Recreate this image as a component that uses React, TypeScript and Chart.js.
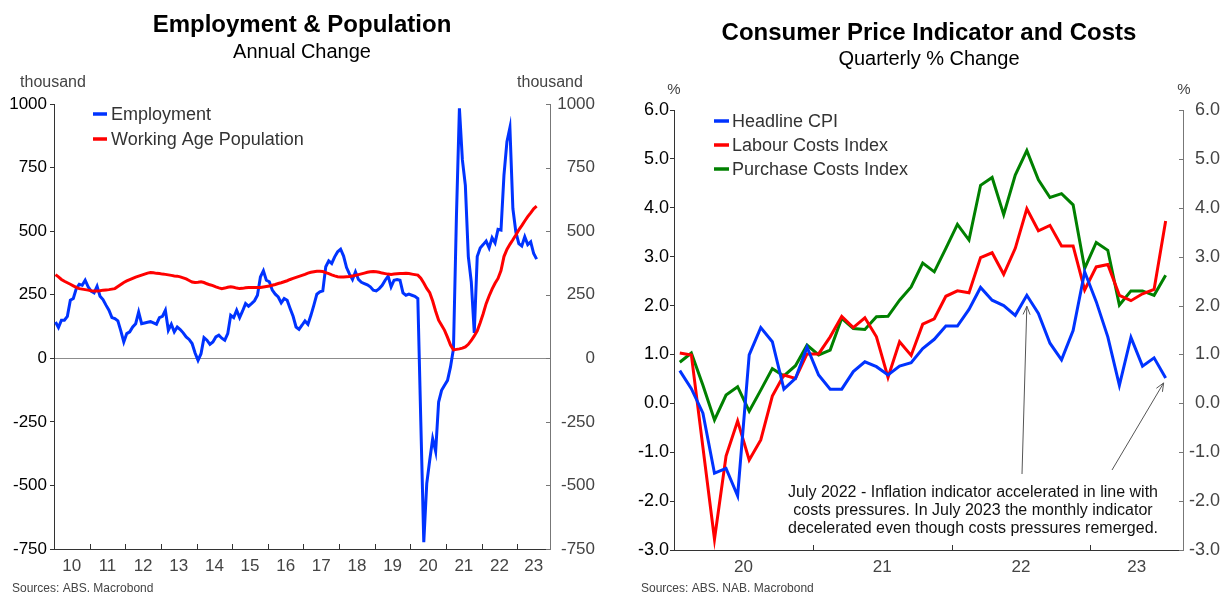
import React, { useEffect, useRef } from "react";
import { Chart, registerables } from "chart.js";

Chart.register(...registerables);

const FONT = '"Liberation Sans", Arial, Helvetica, sans-serif';

// ---------------- Left chart data (monthly, Jan 2010 .. Jul 2023, thousand) ----------------
const empYearLabels = ["10", "11", "12", "13", "14", "15", "16", "17", "18", "19", "20", "21", "22", "23"];
const employmentK = [
  143, 121, 150, 150, 165, 228, 235, 274, 291, 287, 307, 281,
  264, 257, 283, 244, 231, 209, 189, 160, 156, 147, 108, 64,
  97, 104, 123, 136, 182, 136, 139, 142, 144, 139, 134, 160,
  165, 189, 110, 134, 104, 123, 113, 100, 84, 74, 58, 21,
  -8, 18, 81, 71, 55, 64, 84, 91, 79, 71, 97, 169,
  160, 189, 160, 186, 215, 205, 215, 226, 248, 320, 344, 307,
  301, 268, 252, 241, 218, 235, 228, 196, 165, 123, 114, 130,
  147, 134, 169, 209, 252, 261, 265, 360, 383, 373, 399, 419,
  429, 402, 357, 331, 310, 340, 310, 299, 294, 289, 281, 268,
  265, 274, 287, 307, 323, 281, 307, 310, 307, 257, 248, 252,
  248, 244, 235, -250, -723, -493, -401, -316, -366, -172, -126, -106,
  -87, -34, 38, 560, 983, 780, 680, 400, 300, 100, 400, 434,
  447, 461, 434, 474, 454, 507, 504, 720, 852, 907, 589, 497,
  451, 442, 478, 447, 458, 412, 390,
];
const populationK = [
  329, 320, 310, 303, 297, 291, 285, 279, 274, 272, 270, 268,
  266, 265, 265, 266, 268, 269, 270, 272, 274, 282, 290, 298,
  304, 309, 314, 319, 323, 327, 331, 335, 337, 336, 334, 333,
  331, 330, 328, 326, 324, 323, 320, 316, 312, 306, 300, 298,
  299, 301, 298, 293, 289, 286, 281, 277, 274, 276, 279, 281,
  279, 276, 274, 275, 277, 278, 278, 278, 278, 278, 280, 282,
  284, 287, 290, 294, 297, 301, 305, 310, 314, 318, 322, 326,
  330, 335, 338, 340, 342, 342, 341, 337, 333, 328, 324, 321,
  320, 320, 321, 322, 324, 326, 329, 332, 335, 338, 340, 341,
  340, 338, 335, 333, 331, 330, 331, 332, 333, 333, 334, 333,
  331, 329, 327, 315, 296, 275, 258, 225, 185, 150, 130, 110,
  82, 52, 33, 35, 37, 40, 45, 55, 70, 88, 108, 140,
  175, 215, 245, 272, 295, 314, 345, 400, 428, 448, 466, 485,
  505, 522, 540, 557, 572, 588, 598,
];
const empYMin = -750;
const empYMax = 1000;
const empYStep = 250;

// ---------------- Right chart data (monthly, Jan 2020 .. Jul 2023, %) ----------------
const cpiYearLabels = ["20", "21", "22", "23"];
const headlineCPI = [
  0.67, 0.30, -0.20, -1.43, -1.33, -1.89, 0.99, 1.55, 1.26, 0.29,
  0.51, 1.15, 0.58, 0.29, 0.29, 0.65, 0.85, 0.75, 0.58, 0.76,
  0.83, 1.12, 1.31, 1.58, 1.58, 1.92, 2.37, 2.11, 2.00, 1.80,
  2.21, 1.84, 1.23, 0.89, 1.49, 2.69, 2.08, 1.36, 0.37, 1.35,
  0.76, 0.93, 0.52,
];
const labourCostsIndex = [
  1.03, 0.99, -0.90, -2.78, -1.08, -0.36, -1.16, -0.75, 0.15, 0.58,
  0.51, 1.01, 1.01, 1.36, 1.78, 1.55, 1.75, 1.36, 0.53, 1.26,
  0.98, 1.62, 1.73, 2.19, 2.30, 2.26, 2.98, 3.08, 2.64, 3.17,
  3.98, 3.53, 3.64, 3.22, 3.22, 2.32, 2.79, 2.84, 2.21, 2.10,
  2.24, 2.33, 3.73,
];
const purchaseCostsIndex = [
  0.84, 1.03, 0.37, -0.34, 0.17, 0.34, -0.16, 0.27, 0.71, 0.56,
  0.77, 1.19, 0.99, 1.09, 1.74, 1.53, 1.51, 1.77, 1.78, 2.11,
  2.38, 2.87, 2.69, 3.17, 3.66, 3.34, 4.46, 4.62, 3.86, 4.67,
  5.17, 4.57, 4.21, 4.29, 4.06, 2.76, 3.29, 3.13, 2.01, 2.30,
  2.30, 2.21, 2.62,
];
const cpiYMin = -3;
const cpiYMax = 6;
const cpiYStep = 1;
const annotationLines = [
  "July 2022 - Inflation indicator accelerated in line with",
  "costs pressures. In July 2023 the monthly indicator",
  "decelerated even though costs pressures remerged.",
];
const arrowTargets = [30, 42]; // July 2022, July 2023

const BLUE = "#0033ff";
const RED = "#ff0000";
const GREEN = "#008000";

function drawArrow(ctx: CanvasRenderingContext2D, x1: number, y1: number, x2: number, y2: number) {
  ctx.beginPath();
  ctx.moveTo(x1, y1);
  ctx.lineTo(x2, y2);
  ctx.stroke();
  const ang = Math.atan2(y2 - y1, x2 - x1);
  const len = 9;
  const spread = 0.4;
  ctx.beginPath();
  ctx.moveTo(x2 - len * Math.cos(ang - spread), y2 - len * Math.sin(ang - spread));
  ctx.lineTo(x2, y2);
  ctx.lineTo(x2 - len * Math.cos(ang + spread), y2 - len * Math.sin(ang + spread));
  ctx.stroke();
}

function yearLayout(labels: string[], xMax: number) {
  const centers = labels.map((_, k) => (12 * k + Math.min(12 * k + 12, xMax)) / 2);
  const map = new Map<number, string>();
  centers.forEach((c, k) => map.set(c, labels[k]));
  const bounds = labels.slice(1).map((_, k) => 12 * (k + 1));
  return { centers, map, bounds };
}

function LeftChart() {
  const ref = useRef<HTMLCanvasElement | null>(null);
  useEffect(() => {
    const canvas = ref.current;
    if (!canvas) return;
    const xMax = 167;
    const { centers, map, bounds } = yearLayout(empYearLabels, xMax);

    const decor = {
      id: "decorLeft",
      afterDraw(chart: any) {
        const ctx: CanvasRenderingContext2D = chart.ctx;
        const area = chart.chartArea;
        const xs = chart.scales.x;
        const yR = chart.scales.y2;
        ctx.save();
        ctx.textBaseline = "middle";
        ctx.textAlign = "center";
        ctx.fillStyle = "#000";
        ctx.font = `bold 24px ${FONT}`;
        ctx.fillText("Employment & Population", 302, 25);
        ctx.font = `20px ${FONT}`;
        ctx.fillText("Annual Change", 302, 52);
        ctx.font = `16px ${FONT}`;
        ctx.fillStyle = "#444";
        ctx.fillText("thousand", 53, 83);
        ctx.fillText("thousand", 550, 83);

        // legend
        const items = [
          { label: "Employment", color: BLUE, y: 114 },
          { label: "Working Age Population", color: RED, y: 139 },
        ];
        ctx.textAlign = "left";
        ctx.font = `18px ${FONT}`;
        items.forEach((it) => {
          ctx.strokeStyle = it.color;
          ctx.lineWidth = 3.5;
          ctx.beginPath();
          ctx.moveTo(93, it.y);
          ctx.lineTo(107, it.y);
          ctx.stroke();
          ctx.fillStyle = "#333";
          ctx.fillText(it.label, 111, it.y + 1);
        });

        // inward tick marks on x axis
        ctx.lineWidth = 1;
        ctx.strokeStyle = "#333";
        bounds.forEach((v) => {
          const px = Math.round(xs.getPixelForValue(v)) + 0.5;
          ctx.beginPath();
          ctx.moveTo(px, area.bottom);
          ctx.lineTo(px, area.bottom - 5);
          ctx.stroke();
        });
        // inward ticks on right axis
        ctx.strokeStyle = "#777";
        yR.ticks.forEach((t: any) => {
          const py = Math.round(yR.getPixelForValue(t.value)) + 0.5;
          ctx.beginPath();
          ctx.moveTo(area.right - 4, py);
          ctx.lineTo(area.right, py);
          ctx.stroke();
        });

        ctx.font = `12px ${FONT}`;
        ctx.fillStyle = "#444";
        ctx.textAlign = "left";
        ctx.fillText("Sources: ABS. Macrobond", 12, 589);
        ctx.restore();
      },
    };

    const chart = new Chart(canvas, {
      type: "line",
      data: {
        datasets: [
          {
            label: "Employment",
            data: employmentK.map((v, i) => ({ x: i + 0.5, y: v })),
            borderColor: BLUE,
            borderWidth: 3,
            pointRadius: 0,
            tension: 0,
            order: 1,
          },
          {
            label: "Working Age Population",
            data: populationK.map((v, i) => ({ x: i + 0.5, y: v })),
            borderColor: RED,
            borderWidth: 3,
            pointRadius: 0,
            tension: 0,
            order: 0,
          },
        ],
      },
      options: {
        animation: false,
        responsive: false,
        events: [],
        layout: { padding: { top: 104, right: 15, left: 0, bottom: 0 }, autoPadding: false },
        plugins: { legend: { display: false }, tooltip: { enabled: false }, title: { display: false } },
        scales: {
          x: {
            type: "linear",
            position: "bottom",
            min: 0,
            max: xMax,
            afterBuildTicks: (s: any) => {
              s.ticks = centers.map((v) => ({ value: v }));
            },
            afterFit: (s: any) => {
              s.height = 46;
            },
            grid: { drawOnChartArea: false, drawTicks: false },
            border: { display: true, color: "#333", width: 1 },
            ticks: {
              autoSkip: false,
              maxRotation: 0,
              padding: 7,
              color: "#444",
              font: { family: FONT, size: 17 },
              callback: (v: any) => map.get(Number(v)) ?? "",
            },
          },
          y: {
            type: "linear",
            position: "left",
            min: empYMin,
            max: empYMax,
            afterFit: (s: any) => {
              s.width = 54;
            },
            grid: {
              drawOnChartArea: true,
              drawTicks: true,
              tickLength: 4,
              tickColor: "#333",
              color: (c: any) => (c.tick && c.tick.value === 0 ? "#8c8c8c" : "rgba(0,0,0,0)"),
            },
            border: { display: true, color: "#333", width: 1 },
            ticks: {
              stepSize: empYStep,
              padding: 3,
              color: "#000",
              font: { family: FONT, size: 17 },
              callback: (v: any) => String(v),
            },
          },
          y2: {
            type: "linear",
            position: "right",
            min: empYMin,
            max: empYMax,
            afterFit: (s: any) => {
              s.width = 45;
            },
            grid: { drawOnChartArea: false, drawTicks: false },
            border: { display: true, color: "#777", width: 1 },
            ticks: {
              stepSize: empYStep,
              padding: 7,
              crossAlign: "far",
              color: "#444",
              font: { family: FONT, size: 17 },
              callback: (v: any) => String(v),
            },
          },
        },
      } as any,
      plugins: [decor],
    });
    return () => chart.destroy();
  }, []);
  return <canvas ref={ref} width={610} height={595} style={{ display: "block" }} />;
}

function RightChart() {
  const ref = useRef<HTMLCanvasElement | null>(null);
  useEffect(() => {
    const canvas = ref.current;
    if (!canvas) return;
    const xMax = 44;
    const { centers, map, bounds } = yearLayout(cpiYearLabels, xMax);

    const decor = {
      id: "decorRight",
      afterDraw(chart: any) {
        const ctx: CanvasRenderingContext2D = chart.ctx;
        const area = chart.chartArea;
        const xs = chart.scales.x;
        const yL = chart.scales.y;
        const yR = chart.scales.y2;
        ctx.save();
        ctx.textBaseline = "middle";
        ctx.textAlign = "center";
        ctx.fillStyle = "#000";
        ctx.font = `bold 24px ${FONT}`;
        ctx.fillText("Consumer Price Indicator and Costs", 319, 33);
        ctx.font = `20px ${FONT}`;
        ctx.fillText("Quarterly % Change", 319, 59);
        ctx.font = `15px ${FONT}`;
        ctx.fillStyle = "#444";
        ctx.fillText("%", 64, 90);
        ctx.fillText("%", 574, 90);

        const items = [
          { label: "Headline CPI", color: BLUE, y: 121 },
          { label: "Labour Costs Index", color: RED, y: 145 },
          { label: "Purchase Costs Index", color: GREEN, y: 169 },
        ];
        ctx.textAlign = "left";
        ctx.font = `18px ${FONT}`;
        items.forEach((it) => {
          ctx.strokeStyle = it.color;
          ctx.lineWidth = 3.5;
          ctx.beginPath();
          ctx.moveTo(104, it.y);
          ctx.lineTo(119, it.y);
          ctx.stroke();
          ctx.fillStyle = "#333";
          ctx.fillText(it.label, 122, it.y + 1);
        });

        ctx.lineWidth = 1;
        ctx.strokeStyle = "#333";
        bounds.forEach((v) => {
          const px = Math.round(xs.getPixelForValue(v)) + 0.5;
          ctx.beginPath();
          ctx.moveTo(px, area.bottom);
          ctx.lineTo(px, area.bottom - 5);
          ctx.stroke();
        });
        ctx.strokeStyle = "#777";
        yR.ticks.forEach((t: any) => {
          const py = Math.round(yR.getPixelForValue(t.value)) + 0.5;
          ctx.beginPath();
          ctx.moveTo(area.right - 4, py);
          ctx.lineTo(area.right, py);
          ctx.stroke();
        });

        // annotation
        ctx.fillStyle = "#111";
        ctx.textAlign = "center";
        ctx.font = `16px ${FONT}`;
        annotationLines.forEach((line, k) => ctx.fillText(line, 363, 493 + k * 18));
        ctx.strokeStyle = "#555";
        ctx.lineWidth = 1;
        const starts = [
          [412, 474],
          [502, 470],
        ];
        const offsets = [
          [0, 11],
          [-2, 5],
        ];
        arrowTargets.forEach((idx, k) => {
          const tx = xs.getPixelForValue(idx + 0.5) + offsets[k][0];
          const ty = yL.getPixelForValue(headlineCPI[idx]) + offsets[k][1];
          drawArrow(ctx, starts[k][0], starts[k][1], tx, ty);
        });

        ctx.font = `12px ${FONT}`;
        ctx.fillStyle = "#444";
        ctx.textAlign = "left";
        ctx.fillText("Sources: ABS. NAB. Macrobond", 31, 589);
        ctx.restore();
      },
    };

    const mk = (label: string, arr: number[], color: string) => ({
      label,
      data: arr.map((v, i) => ({ x: i + 0.5, y: v })),
      borderColor: color,
      borderWidth: 3,
      pointRadius: 0,
      tension: 0,
    });

    const chart = new Chart(canvas, {
      type: "line",
      data: {
        datasets: [
          mk("Headline CPI", headlineCPI, BLUE),
          mk("Labour Costs Index", labourCostsIndex, RED),
          mk("Purchase Costs Index", purchaseCostsIndex, GREEN),
        ],
      },
      options: {
        animation: false,
        responsive: false,
        events: [],
        layout: { padding: { top: 110, right: 1, left: 0, bottom: 0 }, autoPadding: false },
        plugins: { legend: { display: false }, tooltip: { enabled: false }, title: { display: false } },
        scales: {
          x: {
            type: "linear",
            position: "bottom",
            min: 0,
            max: xMax,
            afterBuildTicks: (s: any) => {
              s.ticks = centers.map((v) => ({ value: v }));
            },
            afterFit: (s: any) => {
              s.height = 45;
            },
            grid: { drawOnChartArea: false, drawTicks: false },
            border: { display: true, color: "#333", width: 1 },
            ticks: {
              autoSkip: false,
              maxRotation: 0,
              padding: 7,
              color: "#444",
              font: { family: FONT, size: 17 },
              callback: (v: any) => map.get(Number(v)) ?? "",
            },
          },
          y: {
            type: "linear",
            position: "left",
            min: cpiYMin,
            max: cpiYMax,
            afterFit: (s: any) => {
              s.width = 64;
            },
            grid: { drawOnChartArea: false, drawTicks: true, tickLength: 4, tickColor: "#333" },
            border: { display: true, color: "#333", width: 1 },
            ticks: {
              stepSize: cpiYStep,
              padding: 1,
              color: "#000",
              font: { family: FONT, size: 18 },
              callback: (v: any) => Number(v).toFixed(1),
            },
          },
          y2: {
            type: "linear",
            position: "right",
            min: cpiYMin,
            max: cpiYMax,
            afterFit: (s: any) => {
              s.width = 37;
            },
            grid: { drawOnChartArea: false, drawTicks: false },
            border: { display: true, color: "#777", width: 1 },
            ticks: {
              stepSize: cpiYStep,
              padding: 7,
              crossAlign: "far",
              color: "#444",
              font: { family: FONT, size: 18 },
              callback: (v: any) => Number(v).toFixed(1),
            },
          },
        },
      } as any,
      plugins: [decor],
    });
    return () => chart.destroy();
  }, []);
  return <canvas ref={ref} width={611} height={595} style={{ display: "block" }} />;
}

export default function App() {
  return (
    <div
      style={{
        position: "absolute",
        left: 0,
        top: 0,
        width: 1221,
        height: 595,
        background: "#fff",
        overflow: "hidden",
      }}
    >
      <div style={{ position: "absolute", left: 0, top: 0, width: 610, height: 595 }}>
        <LeftChart />
      </div>
      <div style={{ position: "absolute", left: 610, top: 0, width: 611, height: 595 }}>
        <RightChart />
      </div>
    </div>
  );
}
